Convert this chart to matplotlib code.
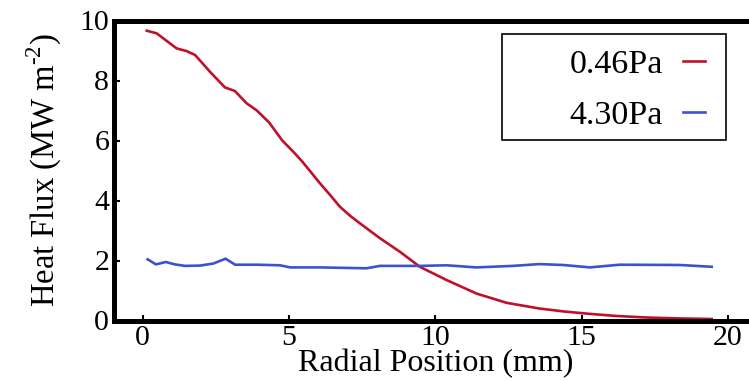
import matplotlib
matplotlib.use("Agg")
import matplotlib.pyplot as plt
from matplotlib.patches import Rectangle

# Data
red_x = [0.14, 0.48, 1.16, 1.5, 1.79, 2.3, 2.81, 3.15, 3.55, 3.9, 4.32, 4.77, 5.17, 5.45,
         6.06, 6.45, 6.74, 7.1, 7.42, 8.11, 8.79, 9.47, 10.38, 11.4, 12.43, 13.55, 14.4,
         15.28, 16.2, 17.2, 18.3, 19.44]
red_y = [9.66, 9.57, 9.07, 8.98, 8.85, 8.29, 7.77, 7.65, 7.24, 7.0, 6.6, 6.0, 5.6, 5.3,
         4.57, 4.13, 3.79, 3.48, 3.24, 2.74, 2.29, 1.79, 1.35, 0.9, 0.59, 0.4, 0.3,
         0.22, 0.15, 0.1, 0.07, 0.05]

blue_x = [0.17, 0.45, 0.79, 1.1, 1.45, 1.96, 2.42, 2.83, 3.16, 3.9, 4.69, 5.04, 6.06,
          7.65, 8.1, 9.47, 10.38, 11.4, 12.65, 13.55, 14.37, 15.28, 16.3, 18.36, 19.44]
blue_y = [2.04, 1.87, 1.95, 1.87, 1.82, 1.83, 1.9, 2.06, 1.86, 1.86, 1.84, 1.77, 1.77,
          1.74, 1.82, 1.82, 1.84, 1.77, 1.82, 1.88, 1.85, 1.77, 1.86, 1.85, 1.79]

labels = ["0.46Pa", "4.30Pa"]
x_ticks = [0, 5, 10, 15, 20]
y_ticks = [0, 2, 4, 6, 8, 10]

RED = "#c0102c"
BLUE = "#3d52d0"

plt.rcParams['font.family'] = ['Liberation Serif', 'DejaVu Serif']
plt.rcParams['mathtext.fontset'] = 'custom'
plt.rcParams['mathtext.rm'] = 'Liberation Serif'

W, H = 749, 381
fig = plt.figure(figsize=(W / 100, H / 100), dpi=100)
left_px, right_px = 114, 114 + (21 + 0.98) * 29.27
top_px, bot_px = 20.5, 320.5
ax = fig.add_axes([left_px / W, 1 - bot_px / H, (right_px - left_px) / W, (bot_px - top_px) / H])

ax.plot(red_x, red_y, color=RED, lw=1.9, label=labels[0])
ax.plot(blue_x, blue_y, color=BLUE, lw=1.9, label=labels[1])

ax.set_xlim(-0.98, 21)
ax.set_ylim(0, 10)
ax.set_xticks(x_ticks)
ax.set_yticks(y_ticks)
for s in ax.spines.values():
    s.set_linewidth(3.6)
ax.tick_params(direction='in', length=4, width=1.5, labelsize=21.5)
ax.tick_params(axis='x', pad=3.5)
ax.tick_params(axis='y', pad=3.5)

ax.set_xlabel("Radial Position (mm)", fontsize=23, labelpad=-1.5)
ax.set_ylabel("Heat Flux (MW m$^{\\mathregular{\u20102}}$)", fontsize=23.5, labelpad=11)

leg = ax.legend(loc='upper right', bbox_to_anchor=(705 / W, 1 - 49 / H),
                bbox_transform=fig.transFigure, frameon=False, markerfirst=False,
                fontsize=24.5, handlelength=0.65, handletextpad=0.59, labelspacing=0.59,
                borderpad=0, borderaxespad=0)

fig.patches.append(Rectangle((502 / W, 1 - 140 / H), 224 / W, 106 / H,
                             transform=fig.transFigure, fill=False,
                             edgecolor='black', linewidth=1.2, zorder=5))

fig.savefig("out.png", dpi=100)
